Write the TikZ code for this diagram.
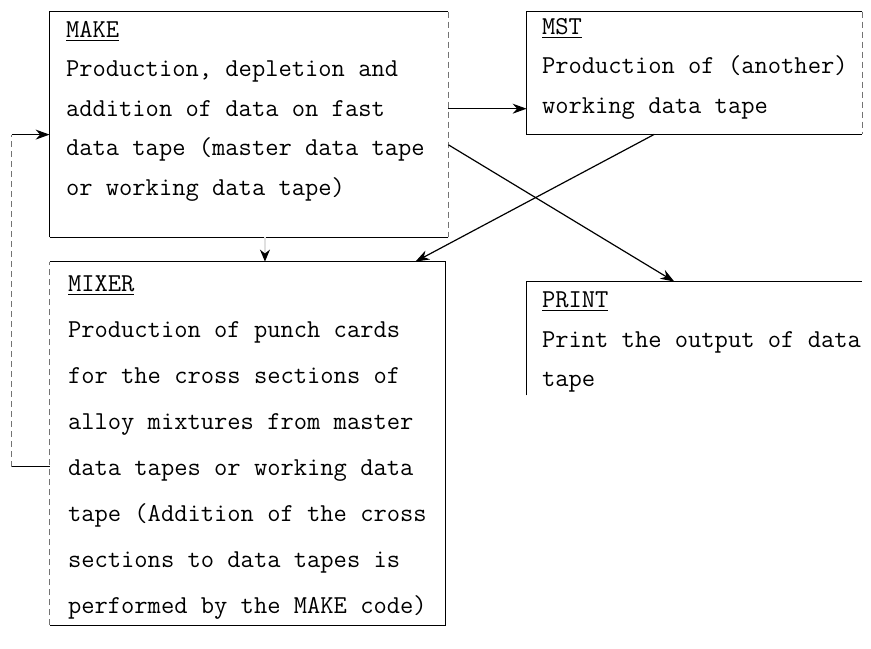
\documentclass[tikz,border=0pt]{standalone}
\usetikzlibrary{arrows.meta,fit,calc}

\begin{document}
\begin{tikzpicture}[x=0.5pt,y=-0.5pt,
    box/.style={inner sep=0pt},
    side/.style={line width=0.6pt},
    faint/.style={line width=0.5pt,densely dashed,black!55},
    txt/.style={anchor=north west,inner sep=0pt,align=left,
      font=\ttfamily\fontsize{12.9}{19.75}\selectfont},
    arr/.style={line width=0.6pt,-{Stealth[length=7pt,width=5pt]}}]
    \useasboundingbox (0,0) rectangle (871,648);

    % program boxes
    \node[box,fit={(50,12)(448,237)}] (make) {};
    \node[box,fit={(527,12)(862,134)}] (mst) {};
    \node[box,fit={(50,262)(445,625)}] (mixer) {};
    \node[box,fit={(527,282)(862,395)}] (print) {};

    \draw[side] (make.south west) -- (make.north west) -- (make.north east);
    \draw[faint] (make.north east) -- (make.south east);
    \draw[side] (make.south east) -- (make.south west);

    \draw[side] (mst.north east) -- (mst.north west) -- (mst.south west) -- (mst.south east);
    \draw[faint] (mst.north east) -- (mst.south east);

    \draw[side] (mixer.north west) -- (mixer.north east) -- (mixer.south east) -- (mixer.south west);
    \draw[faint] (mixer.south west) -- (mixer.north west);

    \draw[side] (print.south west) -- (print.north west) -- (print.north east);

    % texts
    \node[txt] (make text) at ($(make.north west)+(16,9)$)
      {\underline{MAKE}\\
       Production, depletion and\\
       addition of data on fast\\
       data tape (master data tape\\
       or working data tape)};
    \node[txt] (mst text) at ($(mst.north west)+(15,6)$)
      {\underline{MST}\\
       Production of (another)\\
       working data tape};
    \node[txt,font=\ttfamily\fontsize{12.9}{23}\selectfont] (mixer text)
      at ($(mixer.north west)+(18,14)$)
      {\underline{MIXER}\\
       Production of punch cards\\
       for the cross sections of\\
       alloy mixtures from master\\
       data tapes or working data\\
       tape (Addition of the cross\\
       sections to data tapes is\\
       performed by the MAKE code)};
    \node[txt] (print text) at ($(print.north west)+(15,10)$)
      {\underline{PRINT}\\
       Print the output of data\\
       tape};

    % connections
    \coordinate (to mst) at ($(make.north east)!0.43!(make.south east)$);
    \coordinate (to print) at ($(make.north east)!0.59!(make.south east)$);
    \coordinate (from mst) at ($(mst.south west)!0.38!(mst.south east)$);
    \coordinate (into mixer) at ($(mixer.north east)+(-30,0)$);
    \coordinate (into print) at ($(print.north west)!0.44!(print.north east)$);
    \coordinate (make foot) at ($(make.south west)!0.54!(make.south east)$);
    \coordinate (loop out) at ($(mixer.north west)+(0,205)$);
    \coordinate (loop in) at ($(make.north west)+(0,123)$);

    \draw[arr] (to mst) -- (to mst -| mst.west);
    \draw[arr] (to print) -- (into print);
    \draw[arr] (from mst) -- (into mixer);
    \draw[arr,draw=black!12,-{Stealth[length=6pt,width=5pt,black]}] (make foot) -- (make foot |- mixer.north);
    \draw[side] (loop out) -- ++(-38,0) coordinate (loop corner);
    \draw[faint] (loop corner) -- (loop corner |- loop in);
    \draw[arr] (loop corner |- loop in) -- (loop in);
\end{tikzpicture}
\end{document}
